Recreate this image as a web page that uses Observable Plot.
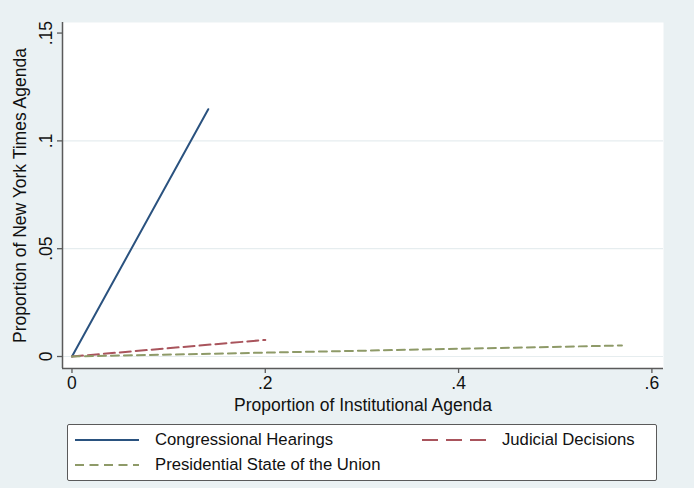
<!DOCTYPE html>
<html>
<head>
<meta charset="utf-8">
<script src="https://cdn.jsdelivr.net/npm/d3@7"></script>
<script src="https://cdn.jsdelivr.net/npm/@observablehq/plot@0.6"></script>
<style>
  html, body { margin: 0; padding: 0; background: #eaf1f3; }
  #chart { position: relative; width: 694px; height: 488px; font-family: "Liberation Sans", Arial, sans-serif; color: #111; }
  #chart > svg { position: absolute; left: 0; top: 0; }
  #legend {
    position: absolute; left: 67px; top: 424px; width: 588px; height: 55px;
    background: #fff; border: 1.5px solid #5a5a5a; border-radius: 2px;
  }
  .key { position: absolute; display: flex; align-items: center; font-size: 16.7px; white-space: nowrap; }
  .key svg { margin-right: 16px; }
</style>
</head>
<body>
<div id="chart"></div>
<script>
// Series: fitted relation between institutional agenda share and NYT agenda share
const seriesNames = ["Congressional Hearings", "Judicial Decisions", "Presidential State of the Union"];
const hearingsX = [0, 0.141];
const hearingsY = [0, 0.1147];
const judicialX = [0, 0.2];
const judicialY = [0, 0.0077];
const presidentialX = [0, 0.569];
const presidentialY = [0, 0.0051];

const xTicks = [0, 0.2, 0.4, 0.6];
const yTicks = [0, 0.05, 0.1, 0.15];
const yGrid = [0, 0.05, 0.1];
const xTitle = "Proportion of Institutional Agenda";
const yTitle = "Proportion of New York Times Agenda";

const colors = ["#2a527f", "#a9545c", "#8e9a68"];
const dashes = [null, "11 5", "8 5"];

// Stata-style numbers: drop the leading zero
const fmt = d => d === 0 ? "0" : String(d).replace(/^0/, "");

const xDomain = [-0.0098, 0.612];
const yDomain = [-0.00556, 0.1549];

const rows = [];
[[hearingsX, hearingsY], [judicialX, judicialY], [presidentialX, presidentialY]].forEach(([xs, ys], i) => {
  xs.forEach((x, j) => rows.push({series: seriesNames[i], x, y: ys[j]}));
});

const lineMarks = seriesNames.map((s, i) =>
  Plot.line(rows.filter(r => r.series === s), {
    x: "x", y: "y", stroke: colors[i], strokeWidth: 2,
    strokeDasharray: dashes[i] ?? undefined
  })
);

const plot = Plot.plot({
  width: 694,
  height: 422,
  marginLeft: 62,
  marginRight: 31,
  marginTop: 22,
  marginBottom: 54,
  style: { background: "transparent", fontFamily: "Liberation Sans, Arial, sans-serif", color: "#111", overflow: "visible" },
  x: { domain: xDomain, axis: null },
  y: { domain: yDomain, axis: null },
  marks: [
    Plot.frame({ fill: "white", stroke: "none" }),
    Plot.gridY(yGrid, { stroke: "#e6edef", strokeOpacity: 1, strokeWidth: 1.2 }),
    ...lineMarks,
    Plot.ruleX([xDomain[0]], { stroke: "#5a5a5a", strokeWidth: 1.5 }),
    Plot.ruleY([yDomain[0]], { stroke: "#5a5a5a", strokeWidth: 1.5 }),
    Plot.axisX(xTicks, { label: null, tickSize: 5, tickPadding: 3, tickFormat: fmt, fontSize: 17.5, stroke: "#5a5a5a", strokeWidth: 1.3 }),
    Plot.axisY(yTicks, { label: null, tickSize: 5, tickFormat: () => "", stroke: "#5a5a5a", strokeWidth: 1.3 }),
    Plot.text(yTicks, { y: d => d, text: fmt, frameAnchor: "left", dx: -16, rotate: -90, textAnchor: "middle", lineAnchor: "middle", fontSize: 17.5, fill: "#111" }),
    Plot.text([xTitle], { frameAnchor: "bottom", dy: 37, lineAnchor: "middle", fontSize: 17.5, fill: "#111" }),
    Plot.text([yTitle], { frameAnchor: "left", dx: -42, rotate: -90, textAnchor: "middle", lineAnchor: "middle", fontSize: 17.5, fill: "#111" })
  ]
});

const chart = document.getElementById("chart");
chart.appendChild(plot);

// Legend box below the plot
const legend = document.createElement("div");
legend.id = "legend";
const keyPos = [
  { left: 7, top: 4 },
  { left: 354, top: 4 },
  { left: 7, top: 29 }
];
seriesNames.forEach((name, i) => {
  const key = document.createElement("div");
  key.className = "key";
  key.style.left = keyPos[i].left + "px";
  key.style.top = keyPos[i].top + "px";
  key.style.height = "22px";
  const dash = i === 0 ? "" : (i === 1 ? ' stroke-dasharray="16 8"' : ' stroke-dasharray="9 5.5"');
  key.innerHTML = `<svg width="64" height="10"><line x1="0" y1="5" x2="64" y2="5" stroke="${colors[i]}" stroke-width="1.8"${dash}/></svg><span>${name}</span>`;
  legend.appendChild(key);
});
chart.appendChild(legend);
</script>
</body>
</html>
